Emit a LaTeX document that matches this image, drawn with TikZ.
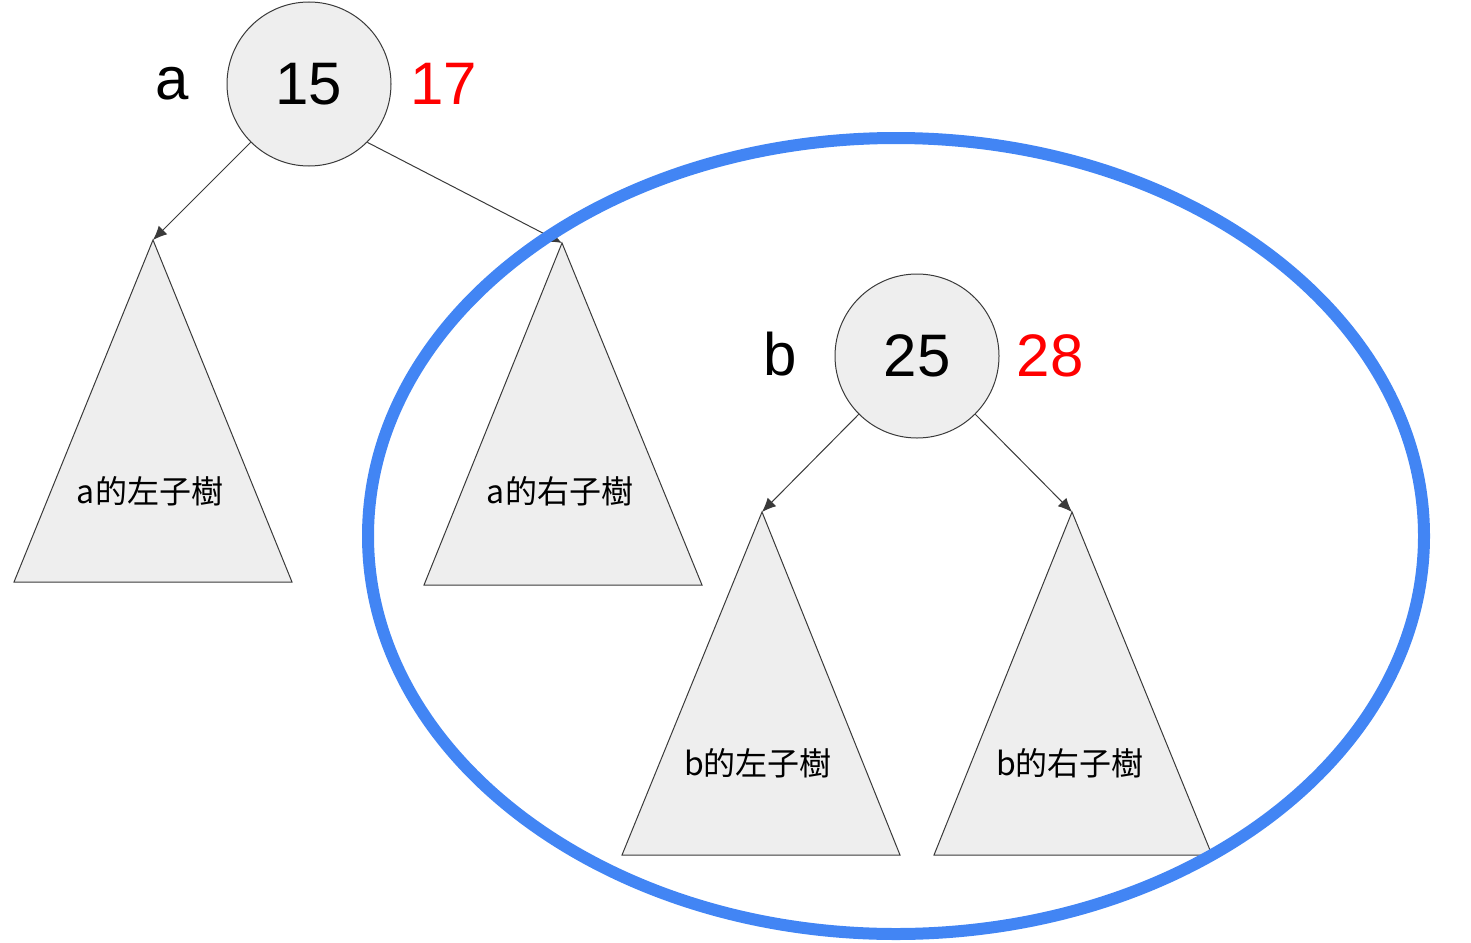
\documentclass[tikz,border=0pt]{standalone}
\usepackage{fontspec}
\setmainfont{Liberation Sans}
\newfontfamily\cjk{Noto Sans CJK TC}
\usetikzlibrary{arrows.meta}
\definecolor{nodegray}{HTML}{EEEEEE}
\definecolor{edgegray}{HTML}{3A3A3A}
\definecolor{ringblue}{HTML}{4285F4}
\definecolor{hotred}{HTML}{FF0000}

\begin{document}
\begin{tikzpicture}[x = 0.5pt, y = -0.5pt,
	key/.style = {circle, draw = edgegray, line width = 0.5pt, fill = nodegray, minimum size = 82pt, inner sep = 0pt, font = \fontsize{30}{30}\selectfont},
	tag/.style = {font = \fontsize{30}{30}\selectfont},
	sub/.style = {font = \cjk\fontsize{16}{16}\selectfont},
	tri/.style = {draw = edgegray, line width = 0.5pt, fill = nodegray},
	link/.style = {draw = edgegray, line width = 0.5pt, -{Latex[length = 7pt, width = 6pt]}}]
	\useasboundingbox (0,0) rectangle (1471,942);

	% subtrees
	\coordinate (TA1) at (153,240);
	\coordinate (TA2) at (562,243);
	\coordinate (TB1) at (762,512);
	\coordinate (TB2) at (1072,512);
	\draw[tri] (TA1) -- (292,582) -- (14,582) -- cycle;
	\draw[tri] (TA2) -- (702,585) -- (424,585) -- cycle;
	\draw[tri] (TB1) -- (900,855) -- (622,855) -- cycle;
	\draw[tri] (TB2) -- (1212,855) -- (934,855) -- cycle;

	\draw
	(150,491) node[sub](SA1){a的左子樹}		%a left
	(560,491) node[sub](SA2){a的右子樹}		%a right
	(758,763) node[sub](SB1){b的左子樹}		%b left
	(1070,763) node[sub](SB2){b的右子樹};	%b right

	% keys
	\node[key](A) at (309,84){15};
	\node[key](B) at (917,356){25};
	\node[tag](LA) at (172,84){a};
	\node[tag, text = hotred](VA) at (444,84){17};
	\node[tag](LB) at (780,354){b};
	\node[tag, text = hotred](VB) at (1050,356){28};

	\draw[link] (A.-135) -- (TA1);
	\draw[link] (A.-45) -- (TA2);
	\draw[link] (B.-135) -- (TB1);
	\draw[link] (B.-45) -- (TB2);

	\draw[ringblue, line width = 6pt] (896,536) ellipse [x radius = 528, y radius = 398];
\end{tikzpicture}
\end{document}
